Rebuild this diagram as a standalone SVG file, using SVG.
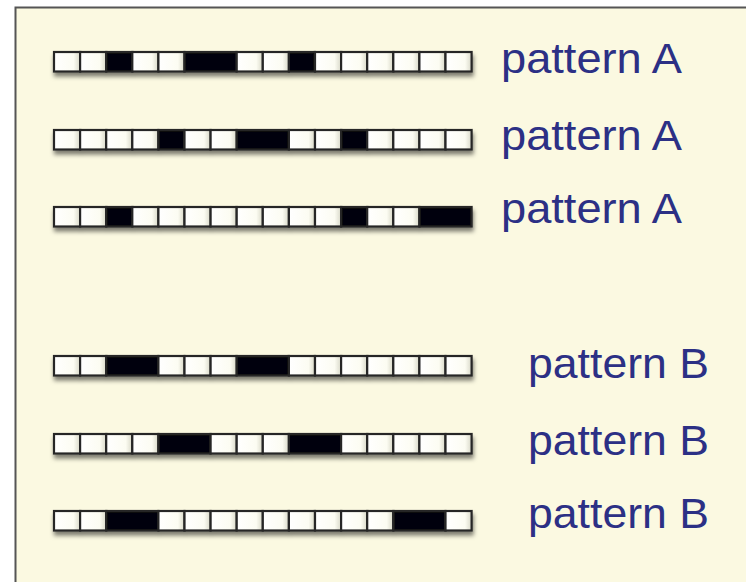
<svg xmlns="http://www.w3.org/2000/svg" xmlns:xlink="http://www.w3.org/1999/xlink" width="746" height="582" viewBox="0 0 746 582">
<defs>
<linearGradient id="wg" x1="0" y1="0" x2="1" y2="0">
<stop offset="0" stop-color="#ffffff"/>
<stop offset="0.75" stop-color="#fcfcf2"/>
<stop offset="1" stop-color="#d8d8c8"/>
</linearGradient>
<filter id="sh" x="-5%" y="-40%" width="110%" height="200%">
<feDropShadow dx="1" dy="4" stdDeviation="2" flood-color="#000" flood-opacity="0.5"/>
</filter>
<rect id="w" width="26.1" height="19.5" class="wc"/>
</defs>
<style>
.wc{fill:url(#wg);stroke:#262626;stroke-width:2.2}
.bc{fill:#050608;stroke:#262626;stroke-width:2.2}
.lbl{font-family:"Liberation Sans",Arial,sans-serif;font-size:43px;fill:#2c3085}
</style>
<rect x="0" y="0" width="746" height="582" fill="#ffffff"/>
<rect x="15.5" y="7.5" width="740" height="590" fill="#fbf9e1" stroke="#555555" stroke-width="2"/>

<g id="row1" filter="url(#sh)" transform="translate(54,52)">
<use href="#w" x="0"/><use href="#w" x="26.1"/>
<rect class="bc" x="52.2" width="26.1" height="19.5"/>
<use href="#w" x="78.3"/><use href="#w" x="104.4"/>
<rect class="bc" x="130.5" width="52.2" height="19.5"/>
<use href="#w" x="182.7"/><use href="#w" x="208.8"/>
<rect class="bc" x="234.9" width="26.1" height="19.5"/>
<use href="#w" x="261"/><use href="#w" x="287.1"/><use href="#w" x="313.2"/><use href="#w" x="339.3"/><use href="#w" x="365.4"/><use href="#w" x="391.5"/>
</g>
<g id="row2" filter="url(#sh)" transform="translate(54,130)">
<use href="#w" x="0"/><use href="#w" x="26.1"/><use href="#w" x="52.2"/><use href="#w" x="78.3"/>
<rect class="bc" x="104.4" width="26.1" height="19.5"/>
<use href="#w" x="130.5"/><use href="#w" x="156.6"/>
<rect class="bc" x="182.7" width="52.2" height="19.5"/>
<use href="#w" x="234.9"/><use href="#w" x="261"/>
<rect class="bc" x="287.1" width="26.1" height="19.5"/>
<use href="#w" x="313.2"/><use href="#w" x="339.3"/><use href="#w" x="365.4"/><use href="#w" x="391.5"/>
</g>
<g id="row3" filter="url(#sh)" transform="translate(54,207)">
<use href="#w" x="0"/><use href="#w" x="26.1"/>
<rect class="bc" x="52.2" width="26.1" height="19.5"/>
<use href="#w" x="78.3"/><use href="#w" x="104.4"/><use href="#w" x="130.5"/><use href="#w" x="156.6"/><use href="#w" x="182.7"/><use href="#w" x="208.8"/><use href="#w" x="234.9"/><use href="#w" x="261"/>
<rect class="bc" x="287.1" width="26.1" height="19.5"/>
<use href="#w" x="313.2"/><use href="#w" x="339.3"/>
<rect class="bc" x="365.4" width="52.2" height="19.5"/>
</g>
<g id="row4" filter="url(#sh)" transform="translate(54,356)">
<use href="#w" x="0"/><use href="#w" x="26.1"/>
<rect class="bc" x="52.2" width="52.2" height="19.5"/>
<use href="#w" x="104.4"/><use href="#w" x="130.5"/><use href="#w" x="156.6"/>
<rect class="bc" x="182.7" width="52.2" height="19.5"/>
<use href="#w" x="234.9"/><use href="#w" x="261"/><use href="#w" x="287.1"/><use href="#w" x="313.2"/><use href="#w" x="339.3"/><use href="#w" x="365.4"/><use href="#w" x="391.5"/>
</g>
<g id="row5" filter="url(#sh)" transform="translate(54,434)">
<use href="#w" x="0"/><use href="#w" x="26.1"/><use href="#w" x="52.2"/><use href="#w" x="78.3"/>
<rect class="bc" x="104.4" width="52.2" height="19.5"/>
<use href="#w" x="156.6"/><use href="#w" x="182.7"/><use href="#w" x="208.8"/>
<rect class="bc" x="234.9" width="52.2" height="19.5"/>
<use href="#w" x="287.1"/><use href="#w" x="313.2"/><use href="#w" x="339.3"/><use href="#w" x="365.4"/><use href="#w" x="391.5"/>
</g>
<g id="row6" filter="url(#sh)" transform="translate(54,511)">
<use href="#w" x="0"/><use href="#w" x="26.1"/>
<rect class="bc" x="52.2" width="52.2" height="19.5"/>
<use href="#w" x="104.4"/><use href="#w" x="130.5"/><use href="#w" x="156.6"/><use href="#w" x="182.7"/><use href="#w" x="208.8"/><use href="#w" x="234.9"/><use href="#w" x="261"/><use href="#w" x="287.1"/><use href="#w" x="313.2"/>
<rect class="bc" x="339.3" width="52.2" height="19.5"/>
<use href="#w" x="391.5"/>
</g>

<g id="labels">
<text class="lbl" x="501" y="73" textLength="181" lengthAdjust="spacingAndGlyphs">pattern A</text>
<text class="lbl" x="501" y="150" textLength="181" lengthAdjust="spacingAndGlyphs">pattern A</text>
<text class="lbl" x="501" y="223" textLength="181" lengthAdjust="spacingAndGlyphs">pattern A</text>
<text class="lbl" x="528" y="378" textLength="181" lengthAdjust="spacingAndGlyphs">pattern B</text>
<text class="lbl" x="528" y="455" textLength="181" lengthAdjust="spacingAndGlyphs">pattern B</text>
<text class="lbl" x="528" y="528" textLength="181" lengthAdjust="spacingAndGlyphs">pattern B</text>
</g>
</svg>
